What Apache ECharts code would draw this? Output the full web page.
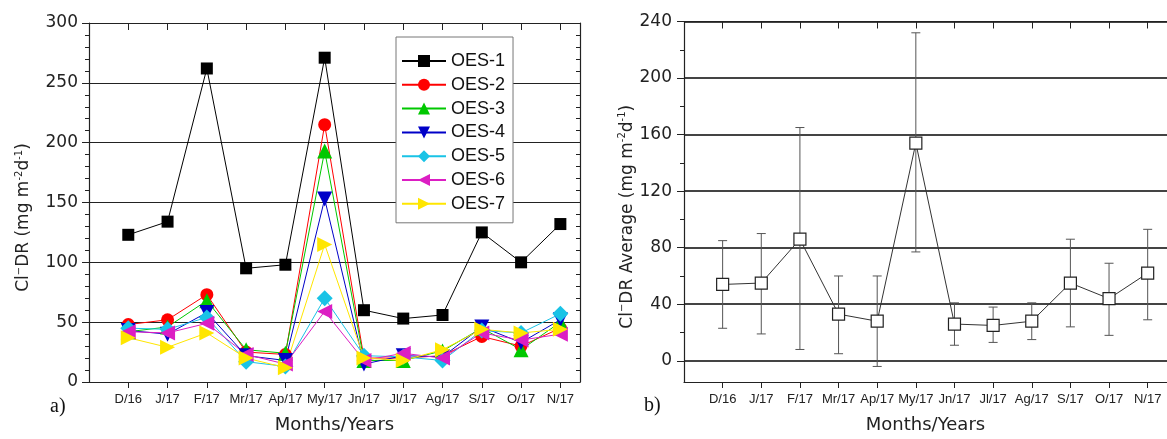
<!DOCTYPE html>
<html>
<head>
<meta charset="utf-8">
<script src="https://cdn.jsdelivr.net/npm/echarts@6.0.0/dist/echarts.min.js"></script>
<style>
  html, body { margin: 0; padding: 0; background: #fff; }
  #chart { width: 1167px; height: 439px; }
</style>
</head>
<body>
<div id="chart"></div>
<script>
// months on both panels
const months = ['D/16', 'J/17', 'F/17', 'Mr/17', 'Ap/17', 'My/17', 'Jn/17', 'Jl/17', 'Ag/17', 'S/17', 'O/17', 'N/17'];

// panel a) - one series per sampling station
const oes1 = [123, 134, 262, 95, 98, 271, 60, 53, 56, 125, 100, 132];
const oes2 = [48, 52, 73, 25, 23, 215, 20, 20, 22, 38, 30, 45];
const oes3 = [42, 46, 68, 27, 24, 193, 18, 18, 26, 45, 27, 50];
const oes4 = [43, 40, 58, 22, 18, 153, 15, 22, 21, 46, 33, 52];
const oes5 = [45, 44, 54, 17, 13, 70, 22, 21, 18, 43, 41, 57];
const oes6 = [42, 41, 49, 23, 15, 59, 18, 24, 20, 41, 35, 40];
const oes7 = [37, 29, 41, 20, 12, 115, 20, 18, 27, 44, 41, 44];

// panel b) - average with error bars
const avg = [54, 55, 86, 33, 28, 154, 26, 25, 28, 55, 44, 62];
const avgLow = [23, 19, 8, 5, -4, 77, 11, 13, 15, 24, 18, 29];
const avgHigh = [85, 90, 165, 60, 60, 232, 41, 38, 41, 86, 69, 93];

const rightTicks = [0, 40, 80, 120, 160, 200, 240];
const rightMinor = [20, 60, 100, 140, 180, 220];

const chart = echarts.init(document.getElementById('chart'), null, { renderer: 'canvas' });

const pos = months.map((m, i) => i + 1);
const pairs = arr => arr.map((v, i) => [i + 1, v]);

const catFont = { fontFamily: 'Liberation Sans, Arial', fontSize: 13, color: '#222' };
const numFont = { fontFamily: 'DejaVu Sans', fontSize: 17, color: '#222' };
const titleRich = {
  t: { fontFamily: 'DejaVu Sans', fontSize: 17, color: '#222', lineHeight: 20 },
  s: { fontFamily: 'DejaVu Sans', fontSize: 10, color: '#222', verticalAlign: 'top', lineHeight: 20 }
};

function xAxes(gridIndex) {
  return [
    {
      gridIndex: gridIndex, type: 'value', position: 'bottom', min: 0, max: 12.5,
      name: 'Months/Years', nameLocation: 'middle', nameGap: 34,
      nameTextStyle: { fontFamily: 'DejaVu Sans', fontSize: 18, color: '#222' },
      axisLine: { onZero: false, lineStyle: { color: '#222', width: 1.2 } },
      axisTick: { customValues: pos, length: 6, lineStyle: { color: '#222' } },
      axisLabel: Object.assign({ customValues: pos, margin: 11, formatter: v => months[v - 1] || '' }, catFont),
      splitLine: { show: false }
    },
    {
      gridIndex: gridIndex, type: 'value', position: 'top', min: 0, max: 12.5,
      axisLine: { onZero: false, lineStyle: { color: '#222', width: 1.2 } },
      axisTick: { customValues: pos, inside: true, length: 7, lineStyle: { color: '#222' } },
      axisLabel: { show: false },
      splitLine: { show: false }
    }
  ];
}

function errorBar(params, api) {
  const x = api.value(0);
  const lo = api.coord([x, api.value(1)]);
  const hi = api.coord([x, api.value(2)]);
  const cw = 4.5;
  const st = { stroke: '#555', lineWidth: 1 };
  return {
    type: 'group',
    children: [
      { type: 'line', shape: { x1: lo[0], y1: lo[1], x2: hi[0], y2: hi[1] }, style: st },
      { type: 'line', shape: { x1: lo[0] - cw, y1: lo[1], x2: lo[0] + cw, y2: lo[1] }, style: st },
      { type: 'line', shape: { x1: hi[0] - cw, y1: hi[1], x2: hi[0] + cw, y2: hi[1] }, style: st }
    ]
  };
}

function station(name, data, color, symbol, rotate, size) {
  return {
    name: name, type: 'line', xAxisIndex: 0, yAxisIndex: 0,
    data: pairs(data), symbol: symbol, symbolRotate: rotate, symbolSize: size,
    lineStyle: { color: color, width: 1 },
    itemStyle: { color: color },
    emphasis: { disabled: true },
    animation: false
  };
}

const option = {
  backgroundColor: '#fff',
  animation: false,
  grid: [
    { left: 89, top: 23, width: 491, height: 362 },
    { left: 684, top: 21.5, width: 491, height: 363.5 }
  ],
  legend: {
    left: 396, top: 37,
    orient: 'vertical',
    itemWidth: 44, itemHeight: 15, itemGap: 5.8,
    padding: [15, 8, 10, 5],
    backgroundColor: '#fff',
    borderColor: '#777', borderWidth: 1,
    textStyle: { fontFamily: 'Liberation Sans, Arial', fontSize: 18, color: '#111', lineHeight: 18 },
    data: ['OES-1', 'OES-2', 'OES-3', 'OES-4', 'OES-5', 'OES-6', 'OES-7']
  },
  xAxis: xAxes(0).concat(xAxes(1)),
  yAxis: [
    {
      gridIndex: 0, type: 'value', position: 'left', min: 0, max: 300, interval: 50,
      name: '{t|Cl}{s|−}{t|DR (mg m}{s|-2}{t|d}{s|-1}{t|)}',
      nameLocation: 'middle', nameGap: 55, nameRotate: 90,
      nameTextStyle: { rich: titleRich, padding: [0, 30, 0, 0] },
      axisLine: { show: true, onZero: false, lineStyle: { color: '#222', width: 1.2 } },
      axisTick: { show: true, length: 7, lineStyle: { color: '#222' } },
      minorTick: { show: true, splitNumber: 5, length: 4, lineStyle: { color: '#222' } },
      axisLabel: Object.assign({ margin: 11 }, numFont),
      splitLine: { show: true, lineStyle: { color: '#222', width: 1 } }
    },
    {
      gridIndex: 0, type: 'value', position: 'right', min: 0, max: 300, interval: 50,
      axisLine: { show: true, onZero: false, lineStyle: { color: '#222', width: 1.2 } },
      axisTick: { show: true, inside: true, length: 7, lineStyle: { color: '#222' } },
      minorTick: { show: true, splitNumber: 5, length: 4, lineStyle: { color: '#222' } },
      axisLabel: { show: false },
      splitLine: { show: false }
    },
    {
      gridIndex: 1, type: 'value', position: 'left', min: -15, max: 240,
      name: '{t|Cl}{s|−}{t|DR Average (mg m}{s|-2}{t|d}{s|-1}{t|)}',
      nameLocation: 'middle', nameGap: 45, nameRotate: 90,
      nameTextStyle: { rich: titleRich, padding: [0, 30, 0, 0] },
      axisLine: { show: true, onZero: false, lineStyle: { color: '#222', width: 1.2 } },
      axisTick: { show: true, customValues: rightTicks, length: 7, lineStyle: { color: '#222' } },
      axisLabel: Object.assign({ customValues: rightTicks, margin: 12 }, numFont),
      splitLine: { show: true, lineStyle: { color: '#444', width: 1.8 } }
    },
    {
      gridIndex: 1, type: 'value', position: 'left', min: -15, max: 240,
      axisLine: { show: false, onZero: false },
      axisTick: { show: true, customValues: rightMinor, length: 4, lineStyle: { color: '#222' } },
      axisLabel: { show: false },
      splitLine: { show: false }
    }
  ],
  graphic: [
    { type: 'text', left: 50, top: 397, style: { text: 'a)', fontFamily: 'Liberation Serif', fontSize: 20, fill: '#111' } },
    { type: 'text', left: 644, top: 396, style: { text: 'b)', fontFamily: 'Liberation Serif', fontSize: 20, fill: '#111' } }
  ],
  series: [
    station('OES-1', oes1, '#000000', 'rect', 0, 12),
    station('OES-2', oes2, '#ff0000', 'circle', 0, 13),
    station('OES-3', oes3, '#00c800', 'triangle', 0, 15),
    station('OES-4', oes4, '#0000c8', 'triangle', 180, 15),
    station('OES-5', oes5, '#19c3e6', 'diamond', 0, 16),
    station('OES-6', oes6, '#dc1ec3', 'triangle', 90, 15),
    station('OES-7', oes7, '#ffe600', 'triangle', -90, 15),
    {
      name: 'err', type: 'custom', xAxisIndex: 2, yAxisIndex: 2,
      renderItem: errorBar,
      encode: { x: 0, y: [1, 2] },
      data: avg.map((v, i) => [i + 1, avgLow[i], avgHigh[i]]),
      z: 1, silent: true
    },
    {
      name: 'Average', type: 'line', xAxisIndex: 2, yAxisIndex: 2,
      data: pairs(avg), symbol: 'rect', symbolSize: 12,
      lineStyle: { color: '#333', width: 1 },
      itemStyle: { color: '#fff', borderColor: '#222', borderWidth: 1.2 },
      emphasis: { disabled: true },
      z: 3
    }
  ]
};

chart.setOption(option);
</script>
</body>
</html>
